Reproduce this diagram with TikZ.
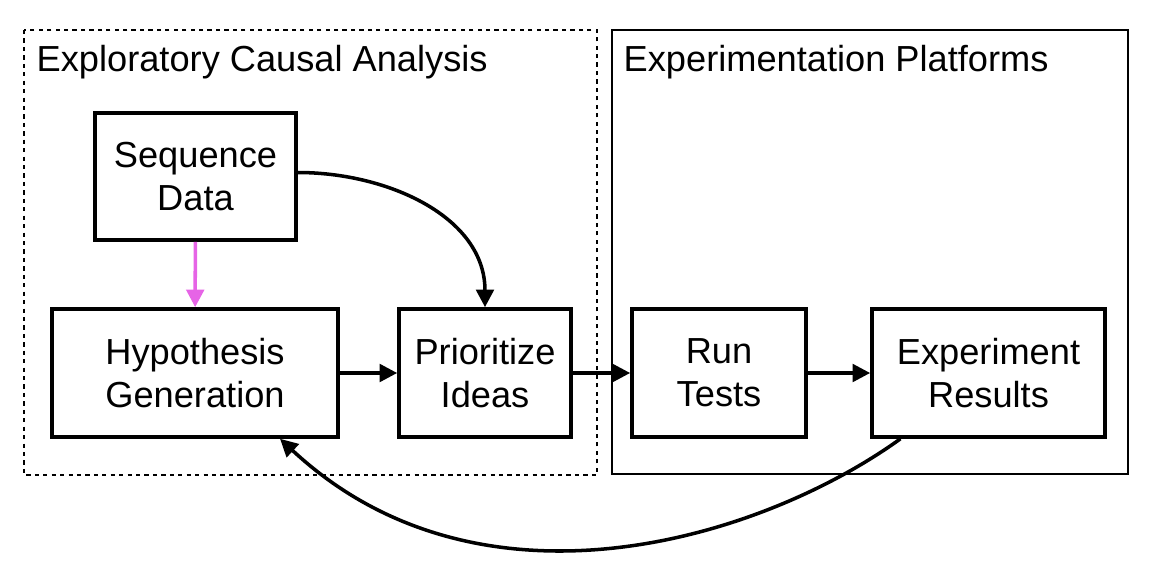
\documentclass[tikz,border=0pt]{standalone}
\usepackage{fontspec}
\setmainfont{Liberation Sans}
\usetikzlibrary{positioning,arrows.meta}
\definecolor{pinkflow}{RGB}{230,100,230}
\tikzset{
  stepbox/.style={draw, line width=1pt, align=center, minimum height=1.28cm, inner sep=2pt},
  flow/.style={-{Triangle[length=5pt,width=5pt]}, line width=1pt},
  title/.style={anchor=west, inner sep=0pt}
}
\begin{document}
\fontsize{10.3}{12.2}\selectfont
\begin{tikzpicture}[x=0.01cm,y=-0.01cm]
  \useasboundingbox (0,0) rectangle (1150,566);
  \draw[dash pattern=on 1.2pt off 1.2pt, line width=0.6pt] (24,30) rectangle (597,475);
  \draw[line width=0.6pt] (612,30) rectangle (1128,474);
  \node[title] (eca) at (36,62) {Exploratory Causal Analysis};
  \node[title] (ep) at (623,62) {Experimentation Platforms};

  \node[stepbox, minimum width=2.01cm, minimum height=1.27cm] (seq) at (195.5,176.5) {Sequence\\Data};
  \node[stepbox, minimum width=2.86cm] (hyp) at (195,373) {Hypothesis\\Generation};
  \node[stepbox, minimum width=1.72cm] (pri) at (485,373) {Prioritize\\Ideas};
  \node[stepbox, minimum width=1.74cm] (run) at (719,373) {Run\\Tests};
  \node[stepbox, minimum width=2.33cm] (res) at (988.5,373) {Experiment\\Results};

  \draw[flow, pinkflow] (seq) -- (hyp);
  \draw[flow] ([yshift=0.04cm]seq.east) to[out=0,in=90] (pri.north);
  \draw[flow] (hyp) -- (pri);
  \draw[flow] (pri) -- (run);
  \draw[flow] (run) -- (res);
  \draw[flow] ([xshift=-0.88cm]res.south) .. controls (760,540) and (480,625) .. ([xshift=0.85cm]hyp.south);
\end{tikzpicture}
\end{document}
